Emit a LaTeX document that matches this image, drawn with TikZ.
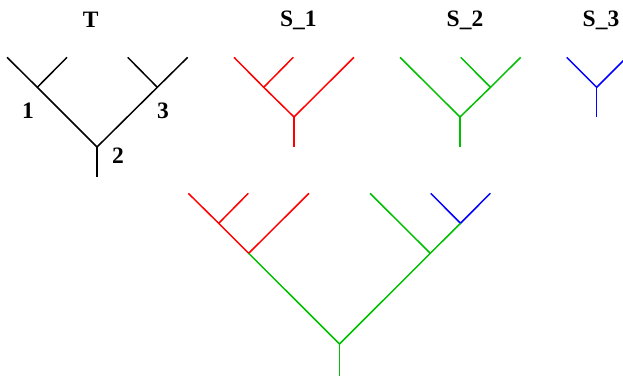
\documentclass[tikz,border=0pt]{standalone}
\usepackage{fontspec}
\setmainfont{Liberation Serif}
\definecolor{tred}{RGB}{255,0,0}
\definecolor{tgreen}{RGB}{0,190,0}
\definecolor{tblue}{RGB}{0,0,255}
\begin{document}
\begin{tikzpicture}[x=1pt,y=-1pt,
  edge/.style={line width=1.5pt},
  lbl/.style={font=\fontsize{23.5}{24}\selectfont\bfseries, inner sep=0pt}]
\useasboundingbox (0,0) rectangle (623,375);
% ---- T ----
\node[lbl] (tT) at (90.7,20) {T};
\coordinate (ta) at (7,57.3);
\coordinate (tb) at (67,57.3);
\coordinate (tc) at (127.7,57.3);
\coordinate (td) at (187.7,57.3);
\coordinate (tl) at (37.3,87.3);
\coordinate (tr) at (157.3,87.3);
\coordinate (tro) at (97,147);
\coordinate (tst) at (97,177.3);
\draw[edge] (ta) -- (tl) -- (tro) -- (tr) -- (td);
\draw[edge] (tb) -- (tl);
\draw[edge] (tc) -- (tr);
\draw[edge] (tro) -- (tst);
\node[lbl] (t1) at (28,111) {1};
\node[lbl] (t3) at (163,111) {3};
\node[lbl] (t2) at (118,155.5) {2};
% ---- S_1 ----
\node[lbl] (s1T) at (298.3,20) {S\_1};
\begin{scope}[tred]
\coordinate (pa) at (234,57.3);
\coordinate (pb) at (293.3,57.3);
\coordinate (pc) at (354,57.3);
\coordinate (pl) at (263.7,87.3);
\coordinate (pro) at (294,117);
\coordinate (pst) at (294,147.3);
\draw[edge] (pa) -- (pl) -- (pro) -- (pc);
\draw[edge] (pb) -- (pl);
\draw[edge] (pro) -- (pst);
\end{scope}
% ---- S_2 ----
\node[lbl] (s2T) at (465,20) {S\_2};
\begin{scope}[tgreen]
\coordinate (qa) at (400,57.3);
\coordinate (qb) at (460.7,57.3);
\coordinate (qc) at (520.7,57.3);
\coordinate (qr) at (490.5,87.3);
\coordinate (qro) at (460,117);
\coordinate (qst) at (460,147.3);
\draw[edge] (qa) -- (qro) -- (qr) -- (qc);
\draw[edge] (qb) -- (qr);
\draw[edge] (qro) -- (qst);
\end{scope}
% ---- S_3 ----
\node[lbl] (s3T) at (601,20) {S\_3};
\begin{scope}[tblue]
\coordinate (ra) at (566.7,57.3);
\coordinate (rb) at (626.7,57.3);
\coordinate (rro) at (596.7,87.3);
\coordinate (rst) at (596.7,117.3);
\draw[edge] (ra) -- (rro) -- (rb);
\draw[edge] (rro) -- (rst);
\end{scope}
% ---- combined ----
\coordinate (ua) at (188.3,193.3);
\coordinate (ub) at (248.3,193.3);
\coordinate (uc) at (309,193.3);
\coordinate (ul) at (218.7,223.3);
\coordinate (ured) at (248.7,253.3);
\coordinate (ud) at (370,193.3);
\coordinate (ue) at (430.7,193.3);
\coordinate (uf) at (490.3,193.3);
\coordinate (ublue) at (460.5,223.3);
\coordinate (ug) at (430.3,253.3);
\coordinate (uro) at (339.5,344);
\coordinate (ust) at (339.5,376);
\draw[edge,tred] (ua) -- (ul) -- (ured) -- (uc);
\draw[edge,tred] (ub) -- (ul);
\draw[edge,tblue] (ue) -- (ublue) -- (uf);
\draw[edge,tgreen] (ured) -- (uro) -- (ug) -- (ublue);
\draw[edge,tgreen] (ud) -- (ug);
\draw[edge,tgreen] (uro) -- (ust);
\end{tikzpicture}
\end{document}
